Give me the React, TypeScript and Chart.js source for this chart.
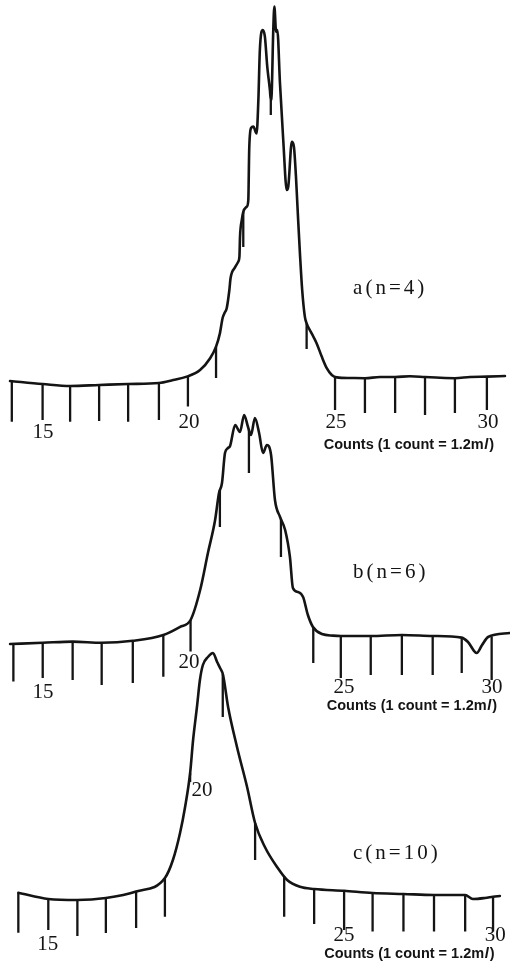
import React, { useEffect, useRef } from 'react';
import { Chart, registerables } from 'chart.js';

Chart.register(...registerables);

// ---------- Panel a (n = 4) ----------
const countsA = [13.90, 15.00, 15.93, 16.91, 17.89, 18.93, 19.41, 19.87, 20.32, 20.66, 20.86, 20.99, 21.08, 21.14, 21.22, 21.31, 21.35, 21.50, 21.61, 21.65, 21.67, 21.73, 21.78, 21.90, 21.95, 21.98, 22.04, 22.12, 22.23, 22.29, 22.34, 22.44, 22.51, 22.59, 22.68, 22.71, 22.74, 22.79, 22.83, 22.89, 22.93, 23.02, 23.13, 23.25, 23.30, 23.42, 23.49, 23.56, 23.60, 23.64, 23.70, 23.77, 23.86, 23.92, 24.09, 24.26, 24.43, 24.60, 24.77, 24.94, 25.39, 25.89, 26.40, 26.91, 27.41, 27.92, 28.43, 28.93, 29.44, 30.01, 30.62];
const responseA = [0.5, -0.25, -0.75, -0.5, -0.25, 0, 0.75, 1.6, 3.25, 6.2, 9.1, 12.4, 16.2, 17.4, 18.7, 23.25, 26.2, 28.9, 30.3, 31.6, 36.6, 40.75, 42.8, 44.1, 45.75, 58.25, 63.7, 64.1, 62.4, 70.75, 83.25, 88.25, 86.6, 79.1, 73.25, 70.75, 72.4, 87.4, 94.1, 87.8, 88.25, 74.9, 60.75, 48.25, 49.1, 60.3, 59.1, 51.6, 45.75, 39.9, 31.6, 23.25, 16.6, 14.9, 12.4, 9.9, 6.6, 3.7, 2.0, 1.4, 1.25, 1.2, 1.5, 1.5, 1.7, 1.5, 1.3, 1.2, 1.5, 1.6, 1.75];
const tickCountsA = [13.96, 15.00, 15.93, 16.91, 17.89, 18.93, 19.91, 20.86, 21.78, 22.71, 23.92, 24.88, 25.89, 26.91, 27.92, 28.93, 30.01];
const tickEndsA = [-9.7, -9.25, -9.7, -9.5, -9.7, -9.25, -5.9, 1.25, 34, 67, 8.5, -6.75, -7.5, -7.5, -8, -7.5, -6.75];

// ---------- Panel b (n = 6) ----------
const countsB = [13.91, 15.00, 16.00, 16.97, 18.01, 19.03, 19.59, 19.94, 20.26, 20.52, 20.76, 20.89, 20.99, 21.09, 21.19, 21.26, 21.43, 21.59, 21.73, 21.86, 21.96, 22.09, 22.23, 22.36, 22.49, 22.63, 22.76, 22.93, 23.10, 23.26, 23.36, 23.53, 23.70, 23.86, 24.03, 24.33, 24.70, 24.96, 25.96, 27.00, 28.03, 29.00, 29.21, 29.50, 29.68, 29.88, 30.61];
const responseB = [-0.5, -0.2, 0.1, -0.2, 0.3, 1.75, 3.8, 5.5, 13, 22.25, 30.5, 37.25, 39.75, 47.25, 48.5, 49, 54.25, 52.5, 56.75, 53.75, 51.75, 56, 52.25, 47.25, 49.25, 46.75, 35.5, 31.25, 28, 21.25, 13.5, 12.5, 11.25, 6.75, 3.75, 2, 1.6, 1.5, 1.5, 1.75, 1.5, 1.1, 0, -2.75, -0.75, 1.25, 2.25];
const tickCountsB = [14.02, 15.00, 16.00, 16.97, 18.01, 19.03, 19.94, 20.92, 21.89, 22.96, 24.04, 24.96, 25.96, 27.00, 28.03, 29.00, 30.00];
const tickEndsB = [-9.9, -9, -9.5, -10.75, -10.25, -8.7, -2.4, 28.75, 42.25, 21.25, -5.25, -9, -8.25, -8.25, -8.25, -7.75, -9.5];

// ---------- Panel c (n = 10) ----------
const countsC = [13.99, 15.00, 15.97, 16.94, 17.96, 18.93, 19.20, 19.44, 19.61, 19.78, 19.88, 20.01, 20.11, 20.21, 20.38, 20.55, 20.69, 20.79, 20.89, 21.06, 21.36, 21.70, 21.97, 22.30, 22.71, 23.05, 23.48, 23.96, 24.97, 25.93, 26.97, 28.00, 29.05, 29.31, 29.72, 29.99, 30.22];
const responseC = [1.3, -0.25, -0.5, 0, 1.6, 5, 9.5, 16.25, 22.75, 31.25, 39.5, 47.75, 54.5, 58.25, 60.25, 61.25, 59, 57.5, 55.75, 47.75, 37.75, 27.75, 18.75, 12.75, 7.75, 4.5, 2.8, 2.25, 1.8, 1.25, 1, 0.75, 0.75, -0.25, 0, 0.3, 0.5];
const tickCountsC = [13.99, 15.00, 15.98, 16.94, 17.96, 18.93, 19.78, 20.88, 21.97, 22.95, 23.96, 24.97, 25.93, 26.97, 28.00, 29.05, 29.99];
const tickEndsC = [-8.7, -8, -9.5, -8.75, -7.5, -4.7, 29, 45.25, 9.5, -4.7, -6.5, -8, -8.4, -8.4, -8.4, -8.4, -8.4];

// ---------- Texts ----------
const tickLabels = ['15', '20', '25', '30'];
const panelTitles = ['a(n=4)', 'b(n=6)', 'c(n=10)'];
const unitCaption = 'Counts (1 count = 1.2m';

// ---------- Layout (anchor positions in each panel's own units) ----------
const labelAtA = { x: [15.01, 19.95, 24.91, 30.05], y: [-12.4, -9.9, -9.9, -9.9] };
const labelAtB = { x: [15.01, 19.89, 25.07, 30.01], y: [-12.6, -5.1, -11.4, -11.4] };
const labelAtC = { x: [14.98, 20.18, 24.97, 30.06], y: [-11.5, 26.9, -9.4, -9.4] };
const titleAt = [{ x: 25.49, y: 23.75 }, { x: 25.37, y: 17.5 }, { x: 25.27, y: 11.25 }];
const captionAt = [{ x: 24.50, y: -15.5 }, { x: 24.49, y: -16.1 }, { x: 24.30, y: -13.9 }];
const ranges = {
  xa: [13.561, 30.791], ya: [-145.25, 95.75],
  xb: [13.573, 30.613], yb: [-80.5, 160.5],
  xc: [13.372, 30.561], yc: [-16.5, 224.5],
};

const INK = '#141414';

function interp(xs: number[], ys: number[], x: number) {
  if (x <= xs[0]) return ys[0];
  for (let i = 1; i < xs.length; i++) {
    if (x <= xs[i]) {
      const t = (x - xs[i - 1]) / (xs[i] - xs[i - 1]);
      return ys[i - 1] + t * (ys[i] - ys[i - 1]);
    }
  }
  return ys[ys.length - 1];
}

function traceData(xs: number[], ys: number[]) {
  return xs.map((x, i) => ({ x, y: ys[i] }));
}

function tickData(tx: number[], ends: number[], xs: number[], ys: number[]) {
  const out: any[] = [];
  tx.forEach((x, i) => {
    out.push({ x, y: interp(xs, ys, x) });
    out.push({ x, y: ends[i] });
    out.push({ x, y: null });
  });
  return out;
}

const panels = [
  { x: 'xa', y: 'ya', labels: labelAtA, title: titleAt[0], caption: captionAt[0], name: panelTitles[0] },
  { x: 'xb', y: 'yb', labels: labelAtB, title: titleAt[1], caption: captionAt[1], name: panelTitles[1] },
  { x: 'xc', y: 'yc', labels: labelAtC, title: titleAt[2], caption: captionAt[2], name: panelTitles[2] },
];

const SANS_BOLD = 'bold 14.5px "Liberation Sans", Arial, sans-serif';

const textPlugin = {
  id: 'panelText',
  afterDatasetsDraw(chart: any) {
    const ctx = chart.ctx as CanvasRenderingContext2D;
    panels.forEach((p) => {
      const xs = chart.scales[p.x];
      const ys = chart.scales[p.y];
      ctx.save();
      ctx.fillStyle = INK;
      ctx.font = '21px "Liberation Serif", "DejaVu Serif", serif';
      ctx.textAlign = 'center';
      ctx.textBaseline = 'middle';
      tickLabels.forEach((t, i) => {
        ctx.fillText(t, xs.getPixelForValue(p.labels.x[i]), ys.getPixelForValue(p.labels.y[i]));
      });
      ctx.textAlign = 'left';
      (ctx as any).letterSpacing = '3px';
      ctx.fillText(p.name, xs.getPixelForValue(p.title.x), ys.getPixelForValue(p.title.y));
      (ctx as any).letterSpacing = '0px';
      ctx.font = SANS_BOLD;
      let cx = xs.getPixelForValue(p.caption.x);
      const cy = ys.getPixelForValue(p.caption.y);
      ctx.fillText(unitCaption, cx, cy);
      cx += ctx.measureText(unitCaption).width + 0.5;
      ctx.font = 'italic ' + SANS_BOLD;
      ctx.fillText('l', cx, cy);
      cx += ctx.measureText('l').width + 1;
      ctx.font = SANS_BOLD;
      ctx.fillText(')', cx, cy);
      ctx.restore();
    });
  },
};

export default function App() {
  const ref = useRef<HTMLCanvasElement>(null);

  useEffect(() => {
    if (!ref.current) return;
    const traceStyle = {
      showLine: true,
      pointRadius: 0,
      borderColor: INK,
      borderWidth: 2.6,
      borderCapStyle: 'round',
      borderJoinStyle: 'round',
      cubicInterpolationMode: 'monotone',
      fill: false,
    };
    const tickStyle = {
      showLine: true,
      pointRadius: 0,
      borderColor: INK,
      borderWidth: 2.3,
      spanGaps: false,
      tension: 0,
      fill: false,
    };
    const scale = (id: string, axis: 'x' | 'y') => ({
      type: 'linear',
      axis,
      display: false,
      min: (ranges as any)[id][0],
      max: (ranges as any)[id][1],
    });
    const chart = new Chart(ref.current, {
      type: 'scatter',
      data: {
        datasets: [
          { ...traceStyle, data: traceData(countsA, responseA), xAxisID: 'xa', yAxisID: 'ya' },
          { ...tickStyle, data: tickData(tickCountsA, tickEndsA, countsA, responseA), xAxisID: 'xa', yAxisID: 'ya' },
          { ...traceStyle, data: traceData(countsB, responseB), xAxisID: 'xb', yAxisID: 'yb' },
          { ...tickStyle, data: tickData(tickCountsB, tickEndsB, countsB, responseB), xAxisID: 'xb', yAxisID: 'yb' },
          { ...traceStyle, data: traceData(countsC, responseC), xAxisID: 'xc', yAxisID: 'yc' },
          { ...tickStyle, data: tickData(tickCountsC, tickEndsC, countsC, responseC), xAxisID: 'xc', yAxisID: 'yc' },
        ] as any,
      },
      options: {
        animation: false,
        responsive: false,
        devicePixelRatio: 1,
        layout: { padding: 0 },
        events: [],
        plugins: { legend: { display: false }, tooltip: { enabled: false } },
        scales: {
          xa: scale('xa', 'x'), ya: scale('ya', 'y'),
          xb: scale('xb', 'x'), yb: scale('yb', 'y'),
          xc: scale('xc', 'x'), yc: scale('yc', 'y'),
        } as any,
      },
      plugins: [textPlugin],
    });
    return () => chart.destroy();
  }, []);

  return (
    <div style={{ position: 'fixed', left: 0, top: 0, width: 510, height: 964, background: '#ffffff' }}>
      <canvas ref={ref} width={510} height={964} style={{ display: 'block' }} />
    </div>
  );
}
